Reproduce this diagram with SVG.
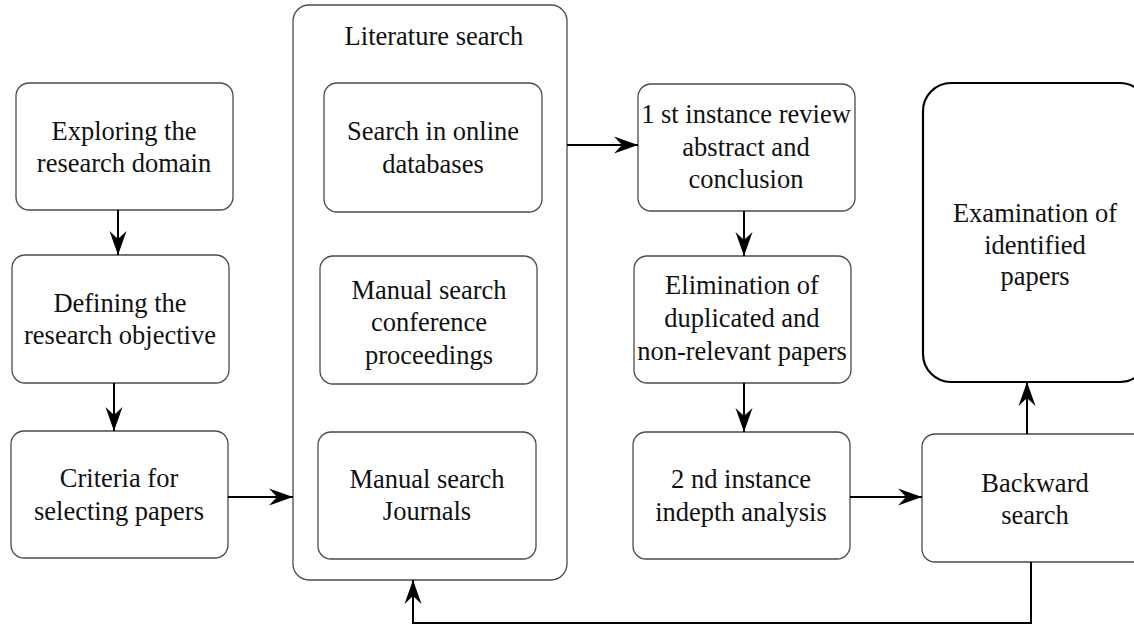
<svg xmlns="http://www.w3.org/2000/svg" width="1134" height="626" viewBox="0 0 1134 626">
<style>
  .box { fill: #ffffff; stroke: #4a4a4a; stroke-width: 1.3; }
  .bold { fill: #ffffff; stroke: #000000; stroke-width: 2.2; }
  .t { font-size: 26.5px; fill: #111111; text-anchor: middle; }
  .c { fill: none; stroke: #000000; stroke-width: 2; }
</style>
<defs>
  <marker id="arr" markerUnits="userSpaceOnUse" markerWidth="28" markerHeight="22" viewBox="-26 -11 28 22" refX="0" refY="0" orient="auto">
    <path d="M0,0 L-24,-8.5 L-16,0 L-24,8.5 Z" fill="#000000"/>
  </marker>
</defs>

<g font-family="Liberation Serif, Tinos, DejaVu Serif, serif">
<g id="container-literature">
  <rect class="box" x="293" y="5" width="274" height="575" rx="16"/>
  <text class="t" x="434" y="45">Literature search</text>
</g>

<g id="n-exploring">
  <rect class="box" x="16" y="83" width="217" height="127" rx="13"/>
  <text class="t" x="124" y="140">Exploring the</text>
  <text class="t" x="124" y="172">research domain</text>
</g>

<g id="n-defining">
  <rect class="box" x="12" y="255" width="217" height="128" rx="13"/>
  <text class="t" x="120" y="312">Defining the</text>
  <text class="t" x="120" y="344">research objective</text>
</g>

<g id="n-criteria">
  <rect class="box" x="11" y="431" width="217" height="127" rx="13"/>
  <text class="t" x="119" y="487">Criteria for</text>
  <text class="t" x="119" y="520">selecting papers</text>
</g>

<g id="n-online">
  <rect class="box" x="324" y="83" width="218" height="129" rx="13"/>
  <text class="t" x="433" y="140">Search in online</text>
  <text class="t" x="433" y="173">databases</text>
</g>

<g id="n-conference">
  <rect class="box" x="320" y="256" width="217" height="128" rx="13"/>
  <text class="t" x="429" y="299">Manual search</text>
  <text class="t" x="429" y="331">conference</text>
  <text class="t" x="429" y="364">proceedings</text>
</g>

<g id="n-journals">
  <rect class="box" x="318" y="432" width="218" height="127" rx="13"/>
  <text class="t" x="427" y="488">Manual search</text>
  <text class="t" x="427" y="520">Journals</text>
</g>

<g id="n-first">
  <rect class="box" x="638" y="84" width="217" height="127" rx="13"/>
  <text class="t" x="746" y="123">1 st instance review</text>
  <text class="t" x="746" y="156">abstract and</text>
  <text class="t" x="746" y="188">conclusion</text>
</g>

<g id="n-elimination">
  <rect class="box" x="634" y="256" width="217" height="127" rx="13"/>
  <text class="t" x="742" y="294">Elimination of</text>
  <text class="t" x="742" y="327">duplicated and</text>
  <text class="t" x="742" y="360">non-relevant papers</text>
</g>

<g id="n-second">
  <rect class="box" x="633" y="432" width="217" height="127" rx="13"/>
  <text class="t" x="741" y="488">2 nd instance</text>
  <text class="t" x="741" y="521">indepth analysis</text>
</g>

<g id="n-backward">
  <rect class="box" x="922" y="434" width="226" height="128" rx="13"/>
  <text class="t" x="1035" y="492">Backward</text>
  <text class="t" x="1035" y="524">search</text>
</g>

<g id="n-examination">
  <rect class="bold" x="923" y="83" width="225" height="299" rx="28"/>
  <text class="t" x="1035" y="222">Examination of</text>
  <text class="t" x="1035" y="254">identified</text>
  <text class="t" x="1035" y="285">papers</text>
</g>
</g>

<g id="connectors">
  <line class="c" x1="118" y1="210" x2="118" y2="255" marker-end="url(#arr)"/>
  <line class="c" x1="114" y1="383" x2="114" y2="431" marker-end="url(#arr)"/>
  <line class="c" x1="228" y1="497" x2="293" y2="497" marker-end="url(#arr)"/>
  <line class="c" x1="567" y1="145" x2="638" y2="145" marker-end="url(#arr)"/>
  <line class="c" x1="744" y1="211" x2="744" y2="256" marker-end="url(#arr)"/>
  <line class="c" x1="744" y1="383" x2="744" y2="432" marker-end="url(#arr)"/>
  <line class="c" x1="850" y1="497" x2="922" y2="497" marker-end="url(#arr)"/>
  <line class="c" x1="1027" y1="434" x2="1027" y2="382" marker-end="url(#arr)"/>
  <polyline class="c" points="1031,562 1031,623 413,623 413,580" marker-end="url(#arr)"/>
</g>
</svg>
